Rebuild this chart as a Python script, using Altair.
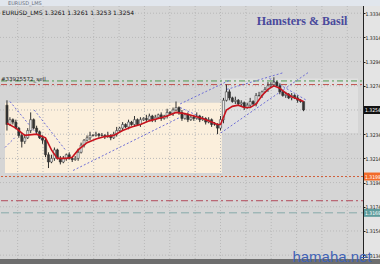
import altair as alt
import numpy as np
import pandas as pd

# ---- chart text ----
symbol = "EURUSD_LMS"
order_label = "#33925572_sell"
brand = "Hamsters & Basil"
site = "hamaha.net"

# ---- M5 candles (prices) ----
first_open = 1.3258
closes = [1.3242, 1.3246, 1.3244, 1.3239, 1.3233, 1.3228, 1.3231, 1.3237, 1.3246, 1.3239,
          1.3236, 1.3231, 1.3229, 1.3217, 1.3211, 1.3214, 1.3221, 1.3214, 1.3211, 1.3214,
          1.3217, 1.3214, 1.3213, 1.3214, 1.3219, 1.3225, 1.3229, 1.3231, 1.3233, 1.3233,
          1.3234, 1.3233, 1.3233, 1.3232, 1.3233, 1.3231, 1.3234, 1.3237, 1.3239, 1.3242,
          1.3240, 1.3244, 1.3242, 1.3246, 1.3242, 1.3246, 1.3247, 1.3246, 1.3249, 1.3246,
          1.3248, 1.3250, 1.3247, 1.3249, 1.3252, 1.3251, 1.3254, 1.3256, 1.3252, 1.3247,
          1.3250, 1.3246, 1.3248, 1.3247, 1.3249, 1.3246, 1.3247, 1.3244, 1.3246, 1.3242,
          1.3242, 1.3239, 1.3246, 1.3262, 1.3269, 1.3264, 1.3261, 1.3262, 1.3259, 1.3260,
          1.3256, 1.3258, 1.3261, 1.3259, 1.3266, 1.3266, 1.3269, 1.3271, 1.3274, 1.3275,
          1.3277, 1.3274, 1.3269, 1.3266, 1.3267, 1.3264, 1.3266, 1.3264, 1.3262, 1.3261,
          1.3254]
# wick lengths above / below the body, in points (0.0001)
wick_up = [4, 2, 1, 2, 1, 2, 3, 2, 6, 1,
           2, 1, 2, 1, 2, 3, 2, 1, 2, 2,
           1, 2, 1, 2, 3, 2, 1, 2, 3, 1,
           2, 1, 2, 1, 3, 1, 2, 3, 1, 2,
           1, 2, 1, 3, 1, 2, 1, 3, 2, 1,
           2, 1, 2, 1, 3, 1, 2, 5, 1, 2,
           1, 2, 1, 2, 3, 1, 2, 1, 2, 1,
           2, 1, 3, 2, 6, 2, 1, 3, 1, 2,
           1, 2, 3, 1, 2, 3, 1, 2, 3, 2,
           4, 1, 2, 1, 2, 1, 2, 1, 2, 1,
           0]
wick_dn = [5, 1, 2, 1, 2, 5, 2, 1, 2, 1,
           2, 1, 3, 2, 5, 1, 2, 1, 2, 1,
           2, 1, 2, 1, 2, 1, 2, 1, 2, 1,
           1, 2, 1, 2, 1, 2, 1, 2, 1, 2,
           1, 2, 1, 2, 1, 2, 1, 2, 1, 2,
           2, 1, 2, 1, 2, 1, 2, 1, 2, 2,
           1, 2, 1, 2, 1, 2, 1, 2, 1, 2,
           1, 5, 2, 3, 1, 2, 1, 2, 1, 2,
           2, 1, 2, 1, 2, 1, 2, 1, 2, 1,
           2, 1, 2, 1, 2, 1, 2, 1, 2, 1,
           1]

# ---- moving average ----
ma_bar = [0, 3, 6, 10, 13, 15, 17, 20, 22, 24, 27, 30, 33, 36, 39, 42, 45, 48, 51, 54,
          57, 60, 63, 66, 69, 71, 72, 74, 76, 78, 80, 82, 84, 86, 88, 90, 92, 94, 96, 98, 100]
ma_val = [1.3243, 1.3239, 1.3233, 1.3234, 1.3231, 1.3221, 1.3214, 1.3214, 1.3215, 1.3221,
          1.3227, 1.3230, 1.3232, 1.3233, 1.3237, 1.3240, 1.3242, 1.3245, 1.3247, 1.3249,
          1.3252, 1.3251, 1.3249, 1.3247, 1.3244, 1.3242, 1.3242, 1.3254, 1.3257, 1.3258,
          1.3256, 1.3256, 1.3259, 1.3266, 1.3271, 1.3274, 1.3272, 1.3268, 1.3265, 1.3263,
          1.3261]

# ---- trend / channel lines ----
trend_bar0 = [1.0, 9.2, -0.66, 22.3, 58.4, 74.1, 58.4, 72.1, 88.5]
trend_p0 = [1.3261, 1.3254, 1.3223, 1.3204, 1.3259, 1.3271, 1.3256, 1.3235, 1.3280]
trend_bar1 = [11.8, 19.7, 2.6, 58.4, 75.4, 93.4, 72.5, 101.6, 101.0]
trend_p1 = [1.3229, 1.3221, 1.3231, 1.3248, 1.3279, 1.3285, 1.3240, 1.3285, 1.3262]

# ---- horizontal levels ----
level_price = [1.3278, 1.3275, 1.3199, 1.3179, 1.3169]
level_color = ["#4f9a4f", "#c0504d", "#d0603a", "#b24a5a", "#86aaaa"]
level_dash = [[6, 3, 2, 3], [6, 3, 2, 3], [2, 2], [7, 3, 2, 3], [8, 4]]

tag_price = [1.3199, 1.3169]
tag_color = ["#f26b2a", "#5d9c9c"]

# ---- shaded zones ----
zone_bar0 = [-0.66, 72.46]
zone_bar1 = [72.46, 118.36]
zone_low = [1.3202, 1.3235]
zone_high = [1.3260, 1.3280]
zone_color = ["#fbefdc", "#e0e0e0"]

# ---- grid ----
price_ticks = [1.3334, 1.3314, 1.3294, 1.3274, 1.3254, 1.3234, 1.3214, 1.3194, 1.3174, 1.3154, 1.3134]
time_grid = [3.6, 12.15, 20.7, 29.25, 37.8, 46.35, 54.9, 63.45, 72.0, 80.55, 89.1, 97.65, 106.2, 114.75]

W, H = 363, 264
SCALE_FONT = "DejaVu Sans Condensed"
x_scale = alt.Scale(domain=[-0.66, 118.36], nice=False, zero=False)
y_scale = alt.Scale(domain=[1.31267, 1.33449], nice=False, zero=False)

# every layer shares this axis so the price scale merges into one right-hand axis
price_axis = alt.Axis(orient="right", values=price_ticks, format=".4f", title=None,
                      grid=False, labelFont=SCALE_FONT, labelFontSize=5,
                      labelColor="#1a1a1a", tickColor="#222222", tickSize=2,
                      domainColor="#222222", domainWidth=1, labelPadding=0)

opens = [first_open] + closes[:-1]
highs = [max(o, c) + u / 10000 for o, c, u in zip(opens, closes, wick_up)]
lows = [min(o, c) - d / 10000 for o, c, d in zip(opens, closes, wick_dn)]
bars = pd.DataFrame({"bar": range(len(closes)), "open": opens, "close": closes,
                     "high": highs, "low": lows})
bars["dir"] = np.where(bars["close"] >= bars["open"], "up", "down")

def X(field):
    return alt.X(field, type="quantitative", scale=x_scale, axis=None)

def Y(field):
    return alt.Y(field, type="quantitative", scale=y_scale, axis=price_axis)

one = pd.DataFrame({"k": [0]})

zones = alt.Chart(pd.DataFrame({"b0": zone_bar0, "b1": zone_bar1, "lo": zone_low,
                                "hi": zone_high, "c": zone_color})).mark_rect().encode(
    x=X("b0"), x2="b1", y=Y("lo"), y2="hi",
    color=alt.Color("c:N", scale=None))

hgrid = alt.Chart(pd.DataFrame({"price": price_ticks})).mark_rule(
    color="#b9b9b9", strokeDash=[1, 2], strokeWidth=1).encode(
    x=alt.value(0), x2=alt.value(W), y=Y("price"))

vgrid = alt.Chart(pd.DataFrame({"bar": time_grid})).mark_rule(
    color="#b9b9b9", strokeDash=[1, 2], strokeWidth=1).encode(
    x=X("bar"), y=alt.value(0), y2=alt.value(H))

level_layers = []
for p, c, d in zip(level_price, level_color, level_dash):
    level_layers.append(alt.Chart(pd.DataFrame({"price": [p]})).mark_rule(
        color=c, strokeDash=d, strokeWidth=1).encode(
        x=alt.value(1), x2=alt.value(W), y=Y("price")))

order_text = alt.Chart(pd.DataFrame({"price": [level_price[1]], "t": [order_label]})).mark_text(
    align="left", baseline="bottom", dy=-3, fontSize=5.5, font="DejaVu Sans", color="#222222"
).encode(x=alt.value(1), y=Y("price"), text="t:N")

trends = alt.Chart(pd.DataFrame({"b0": trend_bar0, "p0": trend_p0, "b1": trend_bar1,
                                 "p1": trend_p1})).mark_rule(
    color="#6f6fd6", strokeDash=[2, 2], strokeWidth=1).encode(
    x=X("b0"), x2="b1", y=Y("p0"), y2="p1")

wicks = alt.Chart(bars).mark_rule(color="#2e2e2e", strokeWidth=1).encode(
    x=X("bar"), y=Y("low"), y2="high")

bodies = alt.Chart(bars).mark_bar(size=2.2, stroke="#2e2e2e", strokeWidth=0.5).encode(
    x=X("bar"), y=Y("open"), y2="close",
    color=alt.Color("dir:N", scale=alt.Scale(domain=["up", "down"],
                                             range=["#e6e6e6", "#333333"]), legend=None))

ma = alt.Chart(pd.DataFrame({"bar": ma_bar, "v": ma_val})).mark_line(
    color="#c8141e", strokeWidth=1.6).encode(x=X("bar"), y=Y("v"))

# price tags on the scale
tag_rows = [(closes[-1], "#111111")] + list(zip(tag_price, tag_color))
tags = []
for p, c in tag_rows:
    td = alt.Chart(pd.DataFrame({"price": [p], "t": [f"{p:.4f}"]}))
    tags.append(td.mark_rule(color=c, strokeWidth=8).encode(
        x=alt.value(364), x2=alt.value(392), y=Y("price")))
    tags.append(td.mark_text(align="left", fontSize=5, font=SCALE_FONT, color="white").encode(
        x=alt.value(365), y=Y("price"), text="t:N"))

header = alt.Chart(pd.DataFrame({"t": [
    f"{symbol}  {opens[-1]:.4f} {highs[-1]:.4f} {lows[-1]:.4f} {closes[-1]:.4f}"]})).mark_text(
    align="left", baseline="middle", fontSize=6, font="DejaVu Sans", color="#111111"
).encode(x=alt.value(2), y=alt.value(13), text="t:N")

title_strip = alt.Chart(one).mark_rect(color="#e1e6ed").encode(
    x=alt.value(0), x2=alt.value(380), y=alt.value(0), y2=alt.value(6))
title_text = alt.Chart(pd.DataFrame({"t": [symbol]})).mark_text(
    align="left", baseline="alphabetic", fontSize=5, font="DejaVu Sans", color="#6a7080"
).encode(x=alt.value(8), y=alt.value(5), text="t:N")

bottom_bar = alt.Chart(one).mark_rect(color="#6e6e6e").encode(
    x=alt.value(0), x2=alt.value(380), y=alt.value(259), y2=alt.value(264))

brand_text = alt.Chart(pd.DataFrame({"t": [brand]})).mark_text(
    align="center", baseline="middle", fontSize=12, font="Liberation Serif",
    fontWeight="bold", color="#4a4a9c"
).encode(x=alt.value(302), y=alt.value(21), text="t:N")

site_text = alt.Chart(pd.DataFrame({"t": [site]})).mark_text(
    align="center", baseline="alphabetic", fontSize=15, font="Liberation Sans", color="#3f62b5"
).encode(x=alt.value(332), y=alt.value(262), text="t:N")

chart = alt.layer(
    zones, hgrid, vgrid, *level_layers, order_text, trends, wicks, bodies, ma,
    *tags, header, title_strip, title_text, bottom_bar, brand_text, site_text
).properties(
    width=W, height=H, autosize="none",
    padding={"left": 0, "top": 0, "right": 17, "bottom": 0},
    background="#e4e4e4"
).configure_view(fill="#d5d5d5", stroke=None)

chart.save("out.html", embed_options={"renderer": "svg", "actions": False})
